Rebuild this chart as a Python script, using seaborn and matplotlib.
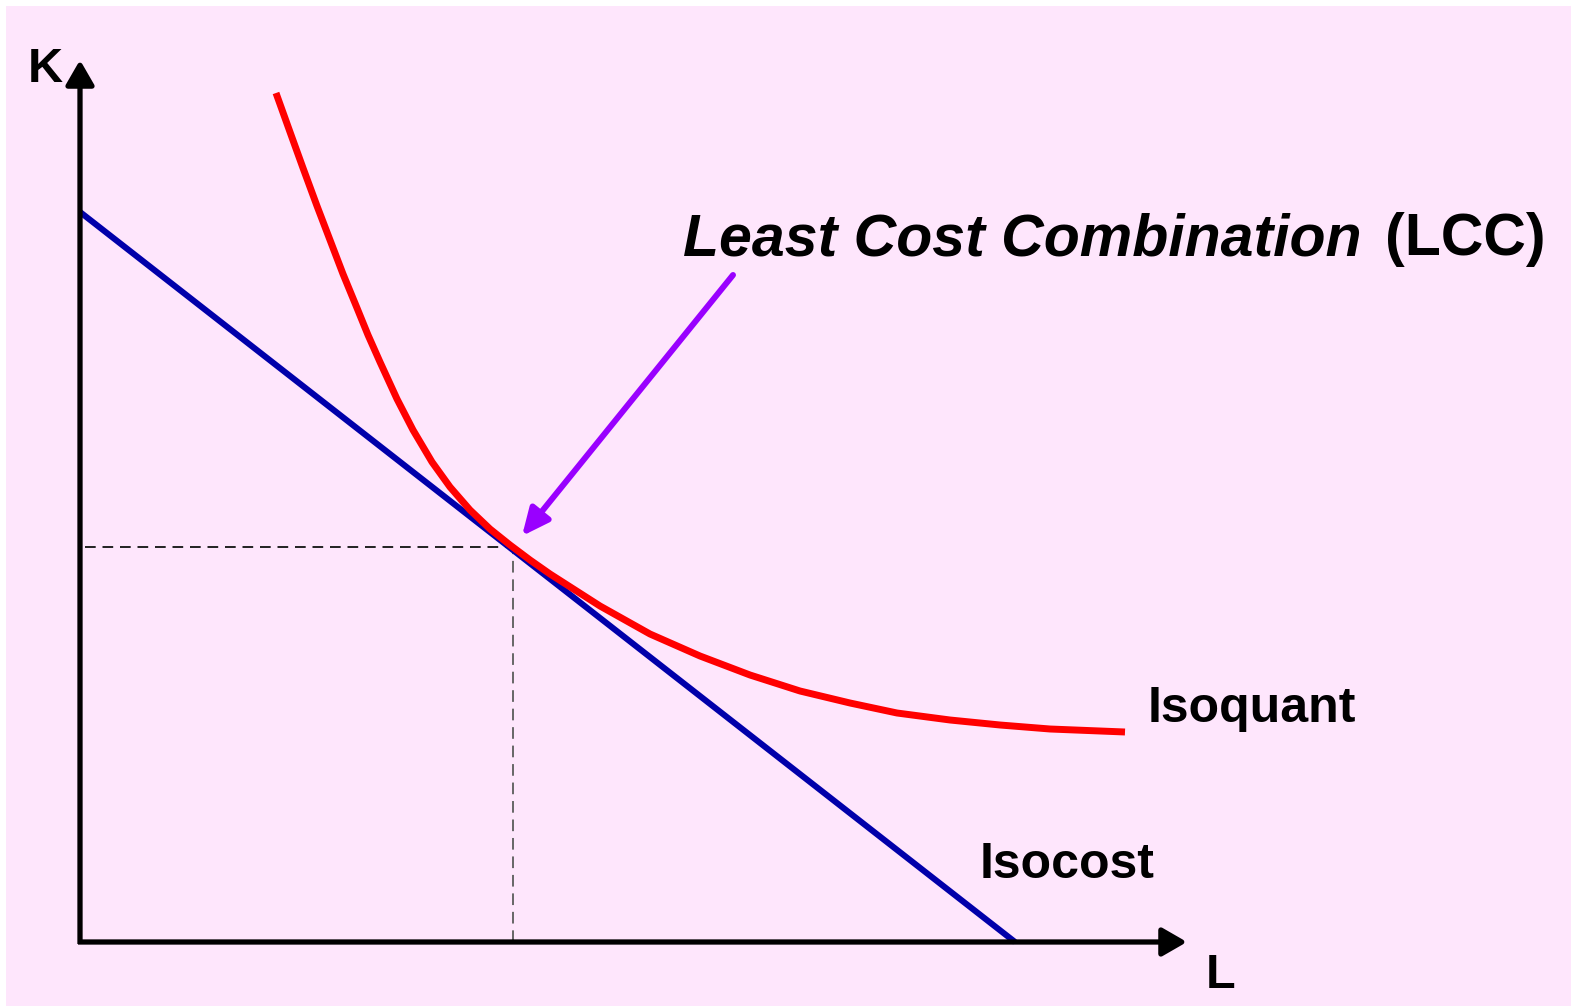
import matplotlib
matplotlib.use("Agg")
import matplotlib.pyplot as plt
import seaborn as sns
import pandas as pd

# ---- data (schematic economic units: L = labour, K = capital) ----
isocost_L = [0.0, 9.35]
isocost_K = [7.30, 0.0]

isoquant_L = [1.96, 2.10, 2.23, 2.37, 2.50, 2.63, 2.77, 2.88, 3.00, 3.17,
              3.33, 3.52, 3.70, 3.90, 4.10, 4.30, 4.50, 4.70, 5.20, 5.70,
              6.20, 6.70, 7.20, 7.70, 8.17, 8.70, 9.20, 9.70, 10.45]
isoquant_K = [8.49, 8.10, 7.74, 7.36, 7.02, 6.68, 6.34, 6.07, 5.80, 5.43,
              5.12, 4.80, 4.55, 4.32, 4.13, 3.97, 3.82, 3.68, 3.36, 3.08,
              2.86, 2.67, 2.51, 2.39, 2.29, 2.22, 2.17, 2.13, 2.10]

lcc_L = 4.33
lcc_K = 3.95

axis_L_max = 11.07
axis_K_max = 8.82

title_main = "Least Cost Combination"
title_tail = "(LCC)"
label_isoquant = "Isoquant"
label_isocost = "Isocost"
label_K = "K"
label_L = "L"

# ---- style ----
sns.set_theme(style="white")
plt.rcParams['font.family'] = ['Liberation Sans', 'DejaVu Sans']
plt.rcParams['text.color'] = 'black'

BG = "#FEE6FC"
fig = plt.figure(figsize=(15.71, 10.06), dpi=100, facecolor="white")
ax = fig.add_axes([6 / 1571, 0, 1 - 6 / 1571, 1 - 6 / 1006])
ax.set_facecolor(BG)
ax.set_xlim(-0.74, 14.91)
ax.set_ylim(-0.64, 9.36)
ax.set_xticks([])
ax.set_yticks([])
for s in ax.spines.values():
    s.set_visible(False)

df_cost = pd.DataFrame({"L": isocost_L, "K": isocost_K})
df_quant = pd.DataFrame({"L": isoquant_L, "K": isoquant_K})

# dashed guide lines
ax.plot([0.05, lcc_L], [lcc_K, lcc_K], color="#222222", lw=1.4,
        dashes=(5.5, 3.5), zorder=1)
ax.plot([lcc_L, lcc_L], [0, lcc_K], color="#666666", lw=1.4,
        dashes=(6, 3.5), zorder=1)

sns.lineplot(data=df_cost, x="L", y="K", ax=ax, color="#0000AA", lw=4.4,
             sort=False, zorder=3, solid_capstyle="butt")
sns.lineplot(data=df_quant, x="L", y="K", ax=ax, color="#FF0000", lw=5.0,
             sort=False, zorder=4, solid_capstyle="butt",
             solid_joinstyle="round")
ax.set_xlabel("")
ax.set_ylabel("")

# axes arrows
arrow_kw = dict(arrowstyle="-|>,head_length=1.25,head_width=0.72",
                color="black", lw=3.8, shrinkA=0, shrinkB=0,
                capstyle="butt")
ax.annotate("", xy=(0, axis_K_max), xytext=(0, -0.02), arrowprops=arrow_kw,
            zorder=5)
ax.annotate("", xy=(axis_L_max, 0), xytext=(-0.02, 0), arrowprops=arrow_kw,
            zorder=5)

# LCC pointer arrow
ax.annotate("", xy=(lcc_L + 0.09, lcc_K + 0.11), xytext=(6.53, 6.67),
            arrowprops=dict(arrowstyle="-|>,head_length=1.35,head_width=0.62",
                            color="#9900FF", lw=4.3, shrinkA=0, shrinkB=0),
            zorder=6)

# text
ax.text(-0.35, 8.72, label_K, fontsize=35, fontweight="bold",
        ha="center", va="center")
ax.text(11.41, -0.33, label_L, fontsize=35, fontweight="bold",
        ha="center", va="center")
ax.text(9.00, 0.77, label_isocost, fontsize=36, fontweight="bold",
        ha="left", va="center")
ax.text(10.68, 2.33, label_isoquant, fontsize=36, fontweight="bold",
        ha="left", va="center")
ax.text(6.03, 6.87, title_main, fontsize=42.5, fontweight="bold",
        fontstyle="italic", ha="left", va="baseline")
ax.text(13.05, 6.87, title_tail, fontsize=42.5, fontweight="bold",
        ha="left", va="baseline")

fig.savefig("out.png", dpi=100, facecolor="white")
